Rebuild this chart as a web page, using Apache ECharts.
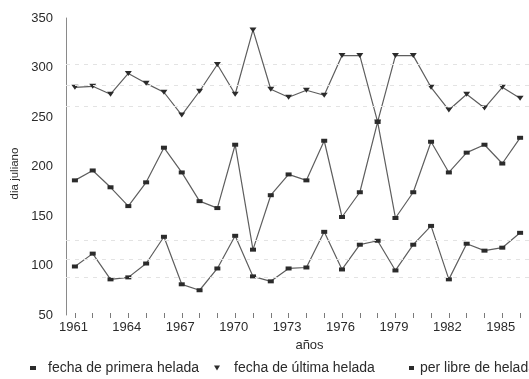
<!DOCTYPE html>
<html>
<head>
<meta charset="utf-8">
<script src="https://cdn.jsdelivr.net/npm/echarts@6/dist/echarts.min.js"></script>
<style>
  html, body { margin: 0; padding: 0; background: #ffffff; }
  #chart { width: 529px; height: 379px; }
</style>
</head>
<body>
<div id="chart"></div>
<script>
// Frost dates (Julian day) per year, and the frost-free period
const years = ['1961','1962','1963','1964','1965','1966','1967','1968','1969','1970',
               '1971','1972','1973','1974','1975','1976','1977','1978','1979','1980',
               '1981','1982','1983','1984','1985','1986'];
const primeraHelada = [99, 112, 86, 88, 102, 129, 81, 75, 97, 130,
                       89, 84, 97, 98, 134, 96, 121, 125, 95, 121,
                       140, 86, 122, 115, 118, 133];
const ultimaHelada = [280, 281, 273, 294, 284, 275, 252, 276, 303, 273,
                      338, 278, 270, 277, 272, 312, 312, 245, 312, 312,
                      280, 257, 273, 259, 280, 269];
const perLibre = [186, 196, 179, 160, 184, 219, 194, 165, 158, 222,
                  116, 171, 192, 186, 226, 149, 174, 245, 148, 174,
                  225, 194, 214, 222, 203, 229];
const yMin = 50, yMax = 350, yStep = 50;
const seriesNames = ['fecha de primera helada', 'fecha de última helada', 'per libre de helada'];

const FONT = "'Liberation Sans', Arial, sans-serif";
const INK = '#2b2b2b';
const LINE = '#5e5e5e';
const TRI = 'path://M0,0L10,0L5,8Z';

// mean and +/- one standard deviation, drawn as faint dashed guides
function bands(arr) {
  const m = arr.reduce((a, b) => a + b, 0) / arr.length;
  const sd = Math.sqrt(arr.reduce((a, b) => a + (b - m) * (b - m), 0) / arr.length);
  return {
    silent: true,
    symbol: 'none',
    label: { show: false },
    lineStyle: { color: '#e3e3e3', type: [4, 5], width: 1 },
    data: [{ yAxis: m }, { yAxis: m + sd }, { yAxis: m - sd }]
  };
}

function lineSeries(name, data, symbol, size, guides) {
  const s = {
    name: name,
    type: 'line',
    data: data,
    symbol: symbol,
    symbolSize: size,
    showAllSymbol: true,
    itemStyle: { color: INK },
    lineStyle: { color: LINE, width: 1.2 },
    emphasis: { disabled: true },
    z: 3
  };
  if (guides) s.markLine = bands(data);
  return s;
}

function legendFor(name, left, icon, w, h, pad) {
  return {
    data: [name],
    left: left,
    top: 356,
    icon: icon,
    itemWidth: w,
    itemHeight: h,
    selectedMode: false,
    textStyle: { fontFamily: FONT, fontSize: 14, color: INK, padding: [0, 0, 0, pad] }
  };
}

const chart = echarts.init(document.getElementById('chart'), null, { renderer: 'canvas' });
chart.setOption({
  animation: false,
  backgroundColor: '#ffffff',
  grid: { left: 66, top: 18, width: 469, height: 297 },
  legend: [
    legendFor(seriesNames[0], 25, 'rect', 6, 4, 7),
    legendFor(seriesNames[1], 209, TRI, 6, 5, 9),
    legendFor(seriesNames[2], 404, 'rect', 5, 4, 1)
  ],
  xAxis: {
    type: 'category',
    data: years,
    boundaryGap: true,
    offset: -2,
    name: 'años',
    nameLocation: 'middle',
    nameGap: 25,
    nameTextStyle: { fontFamily: FONT, fontSize: 13, color: INK, padding: [0, 0, 0, 24] },
    axisLine: { show: false },
    axisTick: { show: true, alignWithLabel: true, interval: 0, length: 5, lineStyle: { color: '#7a7a7a', width: 1 } },
    axisLabel: { interval: 2, margin: 8, fontFamily: FONT, fontSize: 13, color: INK, padding: [0, 3, 0, 0] },
    splitLine: { show: false }
  },
  yAxis: {
    type: 'value',
    min: yMin,
    max: yMax,
    interval: yStep,
    name: 'dia juliano',
    nameLocation: 'middle',
    nameRotate: 90,
    nameGap: 37,
    nameTextStyle: { fontFamily: FONT, fontSize: 11.5, color: INK, padding: [0, 14, 0, 0] },
    axisLine: { show: true, lineStyle: { color: '#8a8a8a', width: 1 } },
    axisTick: { show: false },
    axisLabel: { margin: 13, fontFamily: FONT, fontSize: 13, color: INK },
    splitLine: { show: false }
  },
  series: [
    lineSeries(seriesNames[0], primeraHelada, 'rect', [6, 4], true),
    lineSeries(seriesNames[1], ultimaHelada, TRI, [7, 5], true),
    lineSeries(seriesNames[2], perLibre, 'rect', [6, 4], false)
  ]
});
</script>
</body>
</html>
